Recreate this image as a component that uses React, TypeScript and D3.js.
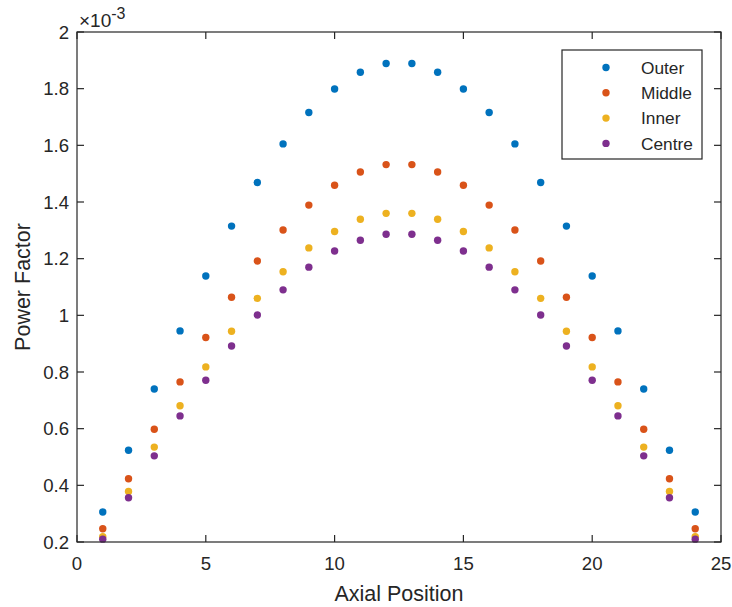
import React from "react";
import * as d3 from "d3";

const positions = d3.range(1, 25);
const outerHalf = [0.306, 0.524, 0.740, 0.945, 1.139, 1.315, 1.469, 1.605, 1.716, 1.799, 1.858, 1.889];
const middleHalf = [0.247, 0.423, 0.598, 0.765, 0.922, 1.064, 1.192, 1.301, 1.389, 1.459, 1.506, 1.532];
const innerHalf = [0.219, 0.378, 0.535, 0.681, 0.818, 0.944, 1.060, 1.154, 1.238, 1.296, 1.339, 1.360];
const centreHalf = [0.210, 0.356, 0.504, 0.645, 0.771, 0.892, 1.001, 1.090, 1.170, 1.227, 1.265, 1.286];
const outer = [...outerHalf, ...outerHalf.slice().reverse()];
const middle = [...middleHalf, ...middleHalf.slice().reverse()];
const inner = [...innerHalf, ...innerHalf.slice().reverse()];
const centre = [...centreHalf, ...centreHalf.slice().reverse()];
const seriesNames = ["Outer", "Middle", "Inner", "Centre"];
const seriesValues = [outer, middle, inner, centre];
const colors = ["#0072BD", "#D95319", "#EDB120", "#7E2F8E"];
const xTicks = [0, 5, 10, 15, 20, 25];
const yTicks = [0.2, 0.4, 0.6, 0.8, 1, 1.2, 1.4, 1.6, 1.8, 2];

const W = 732, H = 607;
const L = 77, R = 721, T = 32, B = 542;
const font = "'Liberation Sans', Arial, Helvetica, sans-serif";
const ink = "#262626";

export default function App() {
  const x = d3.scaleLinear().domain([0, 25]).range([L, R]);
  const y = d3.scaleLinear().domain([0.2, 2]).range([B, T]);
  const tl = 7;
  return (
    <div style={{ position: "absolute", left: 0, top: 0 }}>
      <svg width={W} height={H} style={{ display: "block", background: "#fff" }} fontFamily={font}>
        <rect x={L} y={T} width={R - L} height={B - T} fill="#fff" />
        {seriesValues.map((vals, si) =>
          vals.map((v, i) => (
            <circle key={`${si}-${i}`} cx={x(positions[i])} cy={y(v)} r={3.7} fill={colors[si]} />
          ))
        )}
        <rect x={L} y={T} width={R - L} height={B - T} fill="none" stroke={ink} strokeWidth={1.2} />
        {xTicks.map((t) => (
          <g key={`x${t}`}>
            <line x1={x(t)} x2={x(t)} y1={B} y2={B - tl} stroke={ink} strokeWidth={1.2} />
            <line x1={x(t)} x2={x(t)} y1={T} y2={T + tl} stroke={ink} strokeWidth={1.2} />
            <text x={x(t)} y={570} textAnchor="middle" fontSize={18.6} fill={ink}>{t}</text>
          </g>
        ))}
        {yTicks.map((t) => (
          <g key={`y${t}`}>
            <line x1={L} x2={L + tl} y1={y(t)} y2={y(t)} stroke={ink} strokeWidth={1.2} />
            <line x1={R} x2={R - tl} y1={y(t)} y2={y(t)} stroke={ink} strokeWidth={1.2} />
            <text x={69} y={y(t)} dy="0.36em" textAnchor="end" fontSize={18.6} fill={ink}>{d3.format("~g")(t)}</text>
          </g>
        ))}
        <text x={79} y={27} fontSize={19} fill={ink}>
          ×10<tspan dy={-8} fontSize={16}>-3</tspan>
        </text>
        <text x={(L + R) / 2} y={601} textAnchor="middle" fontSize={21.5} fill={ink}>Axial Position</text>
        <text transform={`translate(30,${(T + B) / 2}) rotate(-90)`} textAnchor="middle" fontSize={21.5} fill={ink}>Power Factor</text>
        <rect x={562} y={50} width={140} height={109} fill="#fff" stroke={ink} strokeWidth={1.2} />
        {seriesNames.map((n, i) => (
          <g key={n}>
            <circle cx={606} cy={67.5 + i * 25.3} r={3.7} fill={colors[i]} />
            <text x={641} y={67.5 + i * 25.3} dy="0.36em" fontSize={17.3} fill={ink}>{n}</text>
          </g>
        ))}
      </svg>
    </div>
  );
}
